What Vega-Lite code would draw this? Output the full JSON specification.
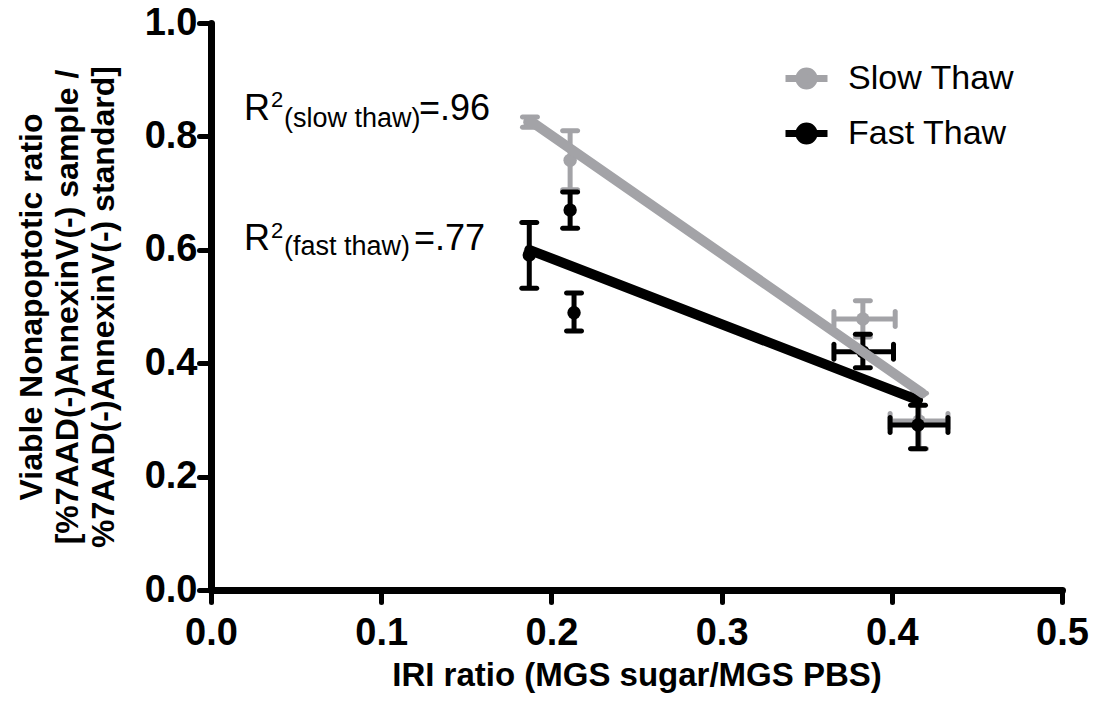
{
  "$schema": "https://vega.github.io/schema/vega-lite/v6.json",
  "width": 851,
  "height": 567,
  "autosize": "none",
  "padding": {"left": 211, "top": 23, "right": 32, "bottom": 112},
  "background": "white",
  "config": {
    "view": {"stroke": null},
    "font": "Liberation Sans",
    "axis": {
      "grid": false,
      "domainColor": "black",
      "domainWidth": 7,
      "domainCap": "round",
      "tickColor": "black",
      "tickWidth": 5,
      "tickSize": 12,
      "tickCap": "round",
      "labelFont": "Liberation Sans",
      "labelFontWeight": "bold",
      "labelFontSize": 38,
      "labelColor": "black",
      "titleFont": "Liberation Sans",
      "titleFontWeight": "bold",
      "titleColor": "black"
    }
  },
  "datasets": {
    "pts": [
      {"s": "Slow Thaw", "x": 0.1874, "y": 0.825, "ylo": 0.816, "yhi": 0.834, "xlo": null, "xhi": null},
      {"s": "Slow Thaw", "x": 0.211, "y": 0.758, "ylo": 0.706, "yhi": 0.81, "xlo": null, "xhi": null},
      {"s": "Slow Thaw", "x": 0.383, "y": 0.478, "ylo": 0.446, "yhi": 0.51, "xlo": 0.366, "xhi": 0.402},
      {"s": "Slow Thaw", "x": 0.416, "y": 0.298, "ylo": 0.249, "yhi": 0.347, "xlo": 0.399, "xhi": 0.433},
      {"s": "Fast Thaw", "x": 0.187, "y": 0.591, "ylo": 0.532, "yhi": 0.648, "xlo": null, "xhi": null},
      {"s": "Fast Thaw", "x": 0.211, "y": 0.67, "ylo": 0.638, "yhi": 0.702, "xlo": null, "xhi": null},
      {"s": "Fast Thaw", "x": 0.2133, "y": 0.489, "ylo": 0.457, "yhi": 0.524, "xlo": null, "xhi": null},
      {"s": "Fast Thaw", "x": 0.383, "y": 0.42, "ylo": 0.392, "yhi": 0.451, "xlo": 0.366, "xhi": 0.401},
      {"s": "Fast Thaw", "x": 0.4154, "y": 0.291, "ylo": 0.249, "yhi": 0.326, "xlo": 0.399, "xhi": 0.433}
    ],
    "fit": [
      {"s": "Slow Thaw", "x": 0.1874, "y": 0.828},
      {"s": "Slow Thaw", "x": 0.418, "y": 0.347},
      {"s": "Fast Thaw", "x": 0.187, "y": 0.6},
      {"s": "Fast Thaw", "x": 0.4154, "y": 0.335}
    ],
    "ann": [
      {"part": "main", "t": "R", "x": 0.0194, "y": 0.829},
      {"part": "sup", "t": "2", "x": 0.0352, "y": 0.852},
      {"part": "sub", "t": "(slow thaw)", "x": 0.0429, "y": 0.8166},
      {"part": "main", "t": "=.96", "x": 0.1222, "y": 0.829},
      {"part": "main", "t": "R", "x": 0.0194, "y": 0.5996},
      {"part": "sup", "t": "2", "x": 0.0352, "y": 0.621},
      {"part": "sub", "t": "(fast thaw)", "x": 0.0429, "y": 0.591},
      {"part": "main", "t": "=.77", "x": 0.1193, "y": 0.5996}
    ]
  },
  "encoding": {
    "x": {
      "field": "x", "type": "quantitative",
      "scale": {"domain": [0, 0.5], "nice": false, "zero": false},
      "axis": {"values": [0, 0.1, 0.2, 0.3, 0.4, 0.5], "format": ".1f", "labelFlush": false, "labelPadding": 12,
               "labelFontSize": 38, "labelFontWeight": "bold",
               "title": "IRI ratio (MGS sugar/MGS PBS)", "titleFontSize": 33, "titlePadding": 7}
    },
    "y": {
      "field": "y", "type": "quantitative",
      "scale": {"domain": [0, 1], "nice": false, "zero": false},
      "axis": {"values": [0, 0.2, 0.4, 0.6, 0.8, 1.0], "format": ".1f", "labelPadding": 2,
               "labelFontSize": 38, "labelFontWeight": "bold",
               "title": ["Viable Nonapoptotic ratio", "[%7AAD(-)AnnexinV(-) sample /", "%7AAD(-)AnnexinV(-) standard]"],
               "titleFontSize": 32, "titleLineHeight": 36, "titlePadding": 24}
    }
  },
  "layer": [
    {
      "data": {"name": "pts"},
      "transform": [{"filter": "datum.s == 'Slow Thaw'"}],
      "layer": [
        {"mark": {"type": "rule", "color": "#a3a3a7", "strokeWidth": 5}, "encoding": {"y": {"field": "ylo", "type": "quantitative"}, "y2": {"field": "yhi"}}},
        {"transform": [{"filter": "isValid(datum.xlo)"}], "mark": {"type": "rule", "color": "#a3a3a7", "strokeWidth": 5}, "encoding": {"x": {"field": "xlo", "type": "quantitative"}, "x2": {"field": "xhi"}}},
        {"mark": {"type": "tick", "orient": "horizontal", "color": "#a3a3a7", "size": 20, "thickness": 5, "cornerRadius": 2.5, "opacity": 1}, "encoding": {"y": {"field": "ylo", "type": "quantitative"}}},
        {"mark": {"type": "tick", "orient": "horizontal", "color": "#a3a3a7", "size": 20, "thickness": 5, "cornerRadius": 2.5, "opacity": 1}, "encoding": {"y": {"field": "yhi", "type": "quantitative"}}},
        {"transform": [{"filter": "isValid(datum.xlo)"}], "mark": {"type": "tick", "orient": "vertical", "color": "#a3a3a7", "size": 20, "thickness": 5, "cornerRadius": 2.5, "opacity": 1}, "encoding": {"x": {"field": "xlo", "type": "quantitative"}}},
        {"transform": [{"filter": "isValid(datum.xlo)"}], "mark": {"type": "tick", "orient": "vertical", "color": "#a3a3a7", "size": 20, "thickness": 5, "cornerRadius": 2.5, "opacity": 1}, "encoding": {"x": {"field": "xhi", "type": "quantitative"}}},
        {"mark": {"type": "point", "shape": "circle", "filled": true, "color": "#a3a3a7", "size": 180, "opacity": 1}}
      ]
    },
    {
      "data": {"name": "pts"},
      "transform": [{"filter": "datum.s == 'Fast Thaw'"}],
      "layer": [
        {"mark": {"type": "rule", "color": "black", "strokeWidth": 5}, "encoding": {"y": {"field": "ylo", "type": "quantitative"}, "y2": {"field": "yhi"}}},
        {"transform": [{"filter": "isValid(datum.xlo)"}], "mark": {"type": "rule", "color": "black", "strokeWidth": 5}, "encoding": {"x": {"field": "xlo", "type": "quantitative"}, "x2": {"field": "xhi"}}},
        {"mark": {"type": "tick", "orient": "horizontal", "color": "black", "size": 20, "thickness": 5, "cornerRadius": 2.5, "opacity": 1}, "encoding": {"y": {"field": "ylo", "type": "quantitative"}}},
        {"mark": {"type": "tick", "orient": "horizontal", "color": "black", "size": 20, "thickness": 5, "cornerRadius": 2.5, "opacity": 1}, "encoding": {"y": {"field": "yhi", "type": "quantitative"}}},
        {"transform": [{"filter": "isValid(datum.xlo)"}], "mark": {"type": "tick", "orient": "vertical", "color": "black", "size": 20, "thickness": 5, "cornerRadius": 2.5, "opacity": 1}, "encoding": {"x": {"field": "xlo", "type": "quantitative"}}},
        {"transform": [{"filter": "isValid(datum.xlo)"}], "mark": {"type": "tick", "orient": "vertical", "color": "black", "size": 20, "thickness": 5, "cornerRadius": 2.5, "opacity": 1}, "encoding": {"x": {"field": "xhi", "type": "quantitative"}}},
        {"mark": {"type": "point", "shape": "circle", "filled": true, "color": "black", "size": 180, "opacity": 1}}
      ]
    },
    {
      "data": {"name": "fit"},
      "transform": [{"filter": "datum.s == 'Fast Thaw'"}],
      "mark": {"type": "line", "strokeWidth": 10, "strokeCap": "round"},
      "encoding": {
        "color": {
          "field": "s", "type": "nominal",
          "scale": {"domain": ["Slow Thaw", "Fast Thaw"], "range": ["#a3a3a7", "#000000"]},
          "legend": {
            "orient": "none", "legendX": 571, "legendY": 31, "title": null,
            "labelFont": "Liberation Sans", "labelFontSize": 34, "labelColor": "black", "labelLimit": 400,
            "symbolType": "M-1,0H1M-0.36,0A0.36,0.36,0,1,0,0.36,0A0.36,0.36,0,1,0,-0.36,0Z",
            "symbolSize": 1764, "symbolStrokeWidth": 7, "labelOffset": 17, "rowPadding": 8,
            "encode": {"symbols": {"update": {"fill": {"scale": "color", "field": "value"}, "stroke": {"scale": "color", "field": "value"}, "strokeWidth": {"value": 7}, "opacity": {"value": 1}}}}
          }
        }
      }
    },
    {
      "data": {"name": "fit"},
      "transform": [{"filter": "datum.s == 'Slow Thaw'"}],
      "mark": {"type": "line", "strokeWidth": 10, "strokeCap": "round"},
      "encoding": {
        "color": {
          "field": "s", "type": "nominal",
          "scale": {"domain": ["Slow Thaw", "Fast Thaw"], "range": ["#a3a3a7", "#000000"]},
          "legend": {
            "orient": "none", "legendX": 571, "legendY": 31, "title": null,
            "labelFont": "Liberation Sans", "labelFontSize": 34, "labelColor": "black", "labelLimit": 400,
            "symbolType": "M-1,0H1M-0.36,0A0.36,0.36,0,1,0,0.36,0A0.36,0.36,0,1,0,-0.36,0Z",
            "symbolSize": 1764, "symbolStrokeWidth": 7, "labelOffset": 17, "rowPadding": 8,
            "encode": {"symbols": {"update": {"fill": {"scale": "color", "field": "value"}, "stroke": {"scale": "color", "field": "value"}, "strokeWidth": {"value": 7}, "opacity": {"value": 1}}}}
          }
        }
      }
    },
    {
      "data": {"name": "ann"},
      "transform": [{"filter": "datum.part == 'main'"}],
      "mark": {"type": "text", "align": "left", "baseline": "alphabetic", "font": "Liberation Sans", "fontSize": 36, "color": "black"},
      "encoding": {"text": {"field": "t"}}
    },
    {
      "data": {"name": "ann"},
      "transform": [{"filter": "datum.part == 'sup'"}],
      "mark": {"type": "text", "align": "left", "baseline": "alphabetic", "font": "Liberation Sans", "fontSize": 22, "color": "black"},
      "encoding": {"text": {"field": "t"}}
    },
    {
      "data": {"name": "ann"},
      "transform": [{"filter": "datum.part == 'sub'"}],
      "mark": {"type": "text", "align": "left", "baseline": "alphabetic", "font": "Liberation Sans", "fontSize": 27, "color": "black"},
      "encoding": {"text": {"field": "t"}}
    }
  ]
}
